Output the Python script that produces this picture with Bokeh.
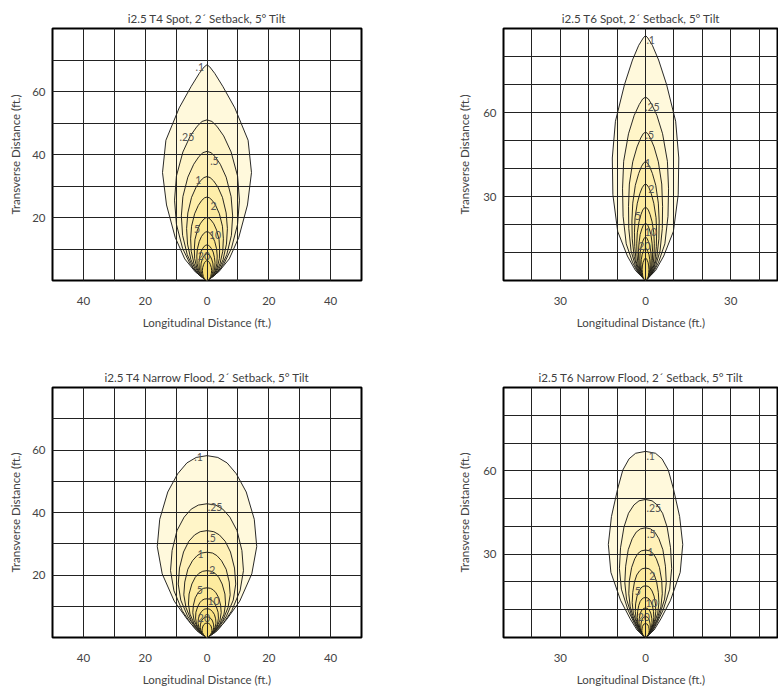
from bokeh.plotting import figure
from bokeh.layouts import gridplot
from bokeh.models import Range1d, FixedTicker
from bokeh.embed import file_html
from bokeh.resources import INLINE
from bokeh.core.properties import value

# ---------------- data ----------------
LEVELS = [".1", ".25", ".5", "1", "2", "5", "10", "20", "50", "100"]
LABELED = [".1", ".25", ".5", "1", "2", "5", "10", "20"]
# fraction of each contour's height at which the half-widths below were read
FRAC = [0, .04, .1, .2, .35, .5, .65, .8, .9, .96, .99, 1.0]

T4_X_TICKS = [-40, -20, 0, 20, 40]
T4_X_LABELS = ["40", "20", "0", "20", "40"]
T4_Y_TICKS = [20, 40, 60]
T6_X_TICKS = [-30, 0, 30]
T6_X_LABELS = ["30", "0", "30"]
T6_Y_TICKS = [30, 60]

# --- i2.5 T4 Spot
A_TITLE = "i2.5 T4 Spot, 2\u00b4 Setback, 5\u00b0 Tilt"
A_TOPS = [68.5, 51, 41, 33, 26.5, 20, 15.5, 11.3, 8.5, 6.3]
A_HW = [
    [0, 3.8, 7.2, 10.3, 13.1, 14.4, 13.3, 9.0, 5.1, 2.5, 0.9, 0],
    [0, 2.9, 5.4, 7.9, 9.9, 10.5, 9.9, 7.8, 5.4, 3.2, 1.6, 0],
    [0, 2.5, 4.5, 6.4, 7.9, 8.3, 7.8, 6.2, 4.3, 2.6, 1.3, 0],
    [0, 2.0, 3.7, 5.2, 6.3, 6.6, 6.2, 5.0, 3.5, 2.1, 1.0, 0],
    [0, 1.7, 3.0, 4.2, 5.1, 5.3, 5.0, 4.0, 2.8, 1.7, 0.8, 0],
    [0, 1.3, 2.4, 3.3, 4.0, 4.1, 3.9, 3.1, 2.2, 1.3, 0.6, 0],
    [0, 1.0, 1.9, 2.7, 3.2, 3.3, 3.1, 2.5, 1.8, 1.1, 0.5, 0],
    [0, 0.8, 1.5, 2.1, 2.5, 2.6, 2.4, 2.0, 1.4, 0.9, 0.4, 0],
    [0, 0.6, 1.1, 1.6, 1.9, 2.0, 1.9, 1.5, 1.1, 0.7, 0.3, 0],
    [0, 0.5, 0.9, 1.2, 1.4, 1.5, 1.4, 1.1, 0.8, 0.5, 0.2, 0],
]
A_LABEL_X = [-2.3, -6.5, 2.4, -2.8, 2.1, -3.2, 2.6, -1.0]
A_LABEL_Y = [67.7, 45.7, 37.8, 32.0, 23.6, 16.5, 14.4, 7.8]

# --- i2.5 T6 Spot
B_TITLE = "i2.5 T6 Spot, 2\u00b4 Setback, 5\u00b0 Tilt"
B_TOPS = [87.5, 65.5, 53, 42.5, 34.5, 26.2, 20.5, 15.5, 11.5, 8]
B_HW = [
    [0, 3.5, 6.4, 9.8, 11.5, 11.7, 10.6, 7.4, 4.6, 2.4, 0.8, 0],
    [0, 2.6, 4.6, 6.8, 7.9, 8.1, 7.7, 6.0, 4.0, 2.2, 1.0, 0],
    [0, 2.1, 3.6, 5.1, 5.9, 6.0, 5.7, 4.5, 3.0, 1.7, 0.8, 0],
    [0, 1.7, 2.9, 4.0, 4.7, 4.8, 4.5, 3.6, 2.4, 1.4, 0.6, 0],
    [0, 1.4, 2.4, 3.3, 3.8, 3.9, 3.7, 2.9, 2.0, 1.2, 0.5, 0],
    [0, 1.1, 1.9, 2.6, 3.0, 3.1, 2.9, 2.3, 1.6, 1.0, 0.4, 0],
    [0, 0.9, 1.5, 2.1, 2.4, 2.5, 2.3, 1.9, 1.3, 0.8, 0.3, 0],
    [0, 0.7, 1.2, 1.7, 1.9, 2.0, 1.9, 1.5, 1.0, 0.6, 0.3, 0],
    [0, 0.6, 1.0, 1.3, 1.5, 1.6, 1.5, 1.2, 0.8, 0.5, 0.2, 0],
    [0, 0.4, 0.7, 1.0, 1.1, 1.2, 1.1, 0.9, 0.6, 0.4, 0.2, 0],
]
B_LABEL_X = [1.8, 2.4, 1.5, 0.8, 2.0, -2.7, 1.8, -0.4]
B_LABEL_Y = [86.0, 62.1, 51.8, 41.9, 32.7, 23.2, 17.3, 12.5]

# --- i2.5 T4 Narrow Flood
C_TITLE = "i2.5 T4 Narrow Flood, 2\u00b4 Setback, 5\u00b0 Tilt"
C_TOPS = [58.2, 42.8, 34.2, 27.3, 21.4, 15.9, 12.4, 9.2, 6.6, 4.6]
C_HW = [
    [0, 3.4, 6.4, 10.6, 14.5, 16.1, 15.3, 12.7, 9.5, 6.5, 3.5, 0],
    [0, 2.8, 5.1, 8.0, 10.7, 11.8, 11.3, 9.7, 7.4, 5.1, 2.8, 0],
    [0, 2.2, 4.0, 6.3, 8.5, 9.3, 8.9, 7.6, 5.9, 4.0, 2.2, 0],
    [0, 1.8, 3.2, 5.1, 6.8, 7.5, 7.2, 6.2, 4.7, 3.2, 1.8, 0],
    [0, 1.4, 2.6, 4.1, 5.5, 6.0, 5.8, 4.9, 3.8, 2.6, 1.4, 0],
    [0, 1.1, 2.0, 3.1, 4.2, 4.6, 4.4, 3.8, 2.9, 2.0, 1.1, 0],
    [0, 0.9, 1.6, 2.5, 3.4, 3.7, 3.6, 3.0, 2.3, 1.6, 0.9, 0],
    [0, 0.7, 1.2, 2.0, 2.6, 2.9, 2.8, 2.4, 1.8, 1.2, 0.7, 0],
    [0, 0.5, 0.9, 1.5, 2.0, 2.2, 2.1, 1.8, 1.4, 0.9, 0.5, 0],
    [0, 0.4, 0.7, 1.1, 1.5, 1.6, 1.5, 1.3, 1.0, 0.7, 0.4, 0],
]
C_LABEL_X = [-2.7, 2.6, 1.5, -2.1, 1.7, -2.3, 2.1, -1.0]
C_LABEL_Y = [57.7, 41.9, 31.9, 26.6, 21.7, 15.3, 11.8, 6.3]

# --- i2.5 T6 Narrow Flood
D_TITLE = "i2.5 T6 Narrow Flood, 2\u00b4 Setback, 5\u00b0 Tilt"
D_TOPS = [67, 49.7, 39.5, 31.5, 25, 18.6, 14.4, 10.6, 7.5, 5]
D_HW = [
    [0, 3.0, 5.4, 8.8, 12.2, 13.1, 12.0, 9.8, 8.0, 5.8, 3.5, 0],
    [0, 2.2, 3.9, 6.2, 8.5, 9.2, 8.8, 7.6, 6.0, 4.1, 2.3, 0],
    [0, 1.8, 3.1, 4.9, 6.7, 7.3, 7.0, 6.1, 4.7, 3.3, 1.8, 0],
    [0, 1.4, 2.5, 4.0, 5.4, 5.9, 5.7, 4.9, 3.8, 2.7, 1.5, 0],
    [0, 1.1, 2.0, 3.1, 4.3, 4.7, 4.5, 3.9, 3.1, 2.1, 1.2, 0],
    [0, 0.9, 1.5, 2.4, 3.3, 3.6, 3.5, 3.0, 2.3, 1.6, 0.9, 0],
    [0, 0.7, 1.2, 1.9, 2.7, 2.9, 2.8, 2.4, 1.9, 1.3, 0.7, 0],
    [0, 0.6, 1.0, 1.5, 2.1, 2.3, 2.2, 1.9, 1.5, 1.0, 0.6, 0],
    [0, 0.4, 0.7, 1.1, 1.6, 1.7, 1.6, 1.4, 1.1, 0.8, 0.4, 0],
    [0, 0.3, 0.5, 0.9, 1.2, 1.3, 1.2, 1.1, 0.8, 0.6, 0.3, 0],
]
D_LABEL_X = [1.8, 2.9, 2.0, 1.8, 2.4, -2.7, 2.1, -0.6]
D_LABEL_Y = [65.2, 46.7, 37.4, 30.8, 22.2, 16.6, 12.3, 7.3]

# ---------------- style ----------------
FONT = "Lato"
FILLS = ["#fff9dc", "#fff5c8", "#fff1b8", "#feeeaa", "#fdeb9f",
         "#fce895", "#fbe58b", "#fae282", "#f8df79", "#f7dc71"]


def contour_polys(tops, hws):
    xs_all, ys_all = [], []
    for top, hw in zip(tops, hws):
        ys = [f * top for f in FRAC]
        xs_all.append(list(hw) + [-w for w in reversed(hw)])
        ys_all.append(ys + list(reversed(ys)))
    return xs_all, ys_all


def make_fig(title, tops, hws, lx, ly, xticks, xlabels, yticks, xmax, ymax,
             width, height, bl, br, bt, bb, title_standoff, ylab_standoff):
    p = figure(width=width, height=height,
               x_range=Range1d(-50, xmax), y_range=Range1d(0, ymax),
               output_backend="svg", toolbar_location=None,
               min_border_left=bl, min_border_right=br,
               min_border_top=bt, min_border_bottom=bb,
               title=title, background_fill_color="white",
               border_fill_color="white")
    p.title.align = "center"
    p.title.text_font = FONT
    p.title.text_font_size = "11.6px"
    p.title.text_font_style = "normal"
    p.title.text_color = "#404040"
    p.title.standoff = title_standoff

    xs, ys = contour_polys(tops, hws)
    p.patches(xs, ys, fill_color=FILLS, line_color="#111111", line_width=0.9)
    p.text(lx, ly, text=LABELED, text_font=value(FONT), text_font_size="10.5px",
           text_color="#555555", text_align="center", text_baseline="middle")

    p.xaxis.ticker = FixedTicker(ticks=xticks)
    p.xaxis.major_label_overrides = {t: l for t, l in zip(xticks, xlabels)}
    p.yaxis.ticker = FixedTicker(ticks=yticks)
    for ax in (p.xaxis[0], p.yaxis[0]):
        ax.axis_line_color = None
        ax.major_tick_line_color = None
        ax.minor_tick_line_color = None
        ax.major_tick_out = 0
        ax.major_tick_in = 0
        ax.minor_tick_out = 0
        ax.minor_tick_in = 0
        ax.major_label_text_font = FONT
        ax.major_label_text_font_size = "11.5px"
        ax.major_label_text_color = "#444444"
        ax.axis_label_text_font = FONT
        ax.axis_label_text_font_size = "11.5px"
        ax.axis_label_text_font_style = "normal"
        ax.axis_label_text_color = "#444444"
    p.xaxis.axis_label = "Longitudinal Distance (ft.)"
    p.yaxis.axis_label = "Transverse Distance (ft.)"
    p.xaxis.major_label_standoff = 16
    p.xaxis.axis_label_standoff = 8
    p.yaxis.major_label_standoff = 7
    p.yaxis.axis_label_standoff = ylab_standoff

    p.xgrid.ticker = FixedTicker(ticks=list(range(-40, 50, 10)))
    p.ygrid.ticker = FixedTicker(ticks=list(range(10, ymax, 10)))
    for g in (p.xgrid[0], p.ygrid[0]):
        g.grid_line_color = "#222222"
        g.grid_line_width = 1
        g.level = "annotation"

    p.outline_line_color = "black"
    p.outline_line_width = 2
    return p


LW, RW = 440, 338
TH, BH = 365, 323

pA = make_fig(A_TITLE, A_TOPS, A_HW, A_LABEL_X, A_LABEL_Y,
              T4_X_TICKS, T4_X_LABELS, T4_Y_TICKS, 50, 80,
              LW, TH, 52, 79, 28, 85, 8, 7)
pB = make_fig(B_TITLE, B_TOPS, B_HW, B_LABEL_X, B_LABEL_Y,
              T6_X_TICKS, T6_X_LABELS, T6_Y_TICKS, 46.8, 90,
              RW, TH, 63, 0, 28, 85, 8, 9)
pC = make_fig(C_TITLE, C_TOPS, C_HW, C_LABEL_X, C_LABEL_Y,
              T4_X_TICKS, T4_X_LABELS, T4_Y_TICKS, 50, 80,
              LW, BH, 52, 79, 20, 51, 7, 7)
pD = make_fig(D_TITLE, D_TOPS, D_HW, D_LABEL_X, D_LABEL_Y,
              T6_X_TICKS, T6_X_LABELS, T6_Y_TICKS, 46.8, 90,
              RW, BH, 63, 0, 20, 51, 7, 9)

grid = gridplot([[pA, pB], [pC, pD]], toolbar_location=None)

open("out.html", "w").write(file_html(grid, INLINE))
